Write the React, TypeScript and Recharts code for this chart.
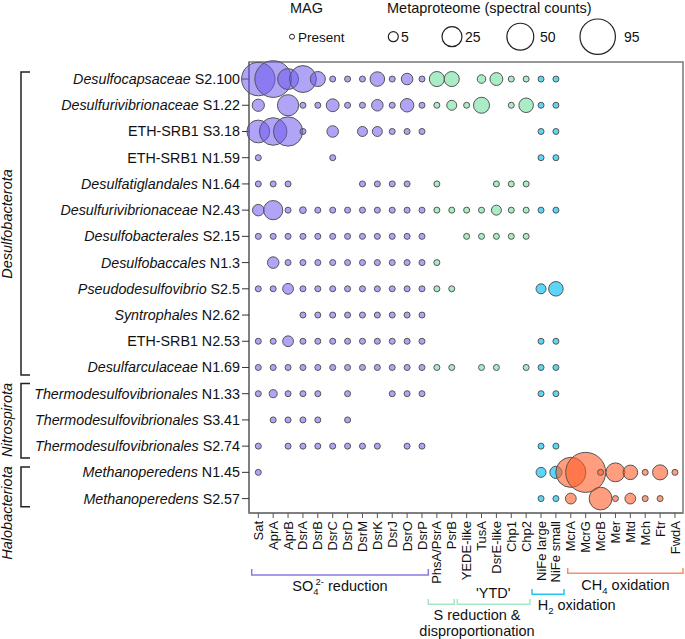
import React from 'react';
import { ScatterChart, Scatter, XAxis, YAxis, ReferenceArea, Customized } from 'recharts';

// MAG rows: [italic part, plain part]
const mags: [string, string][] = [
  ['Desulfocapsaceae', 'S2.100'],
  ['Desulfurivibrionaceae', 'S1.22'],
  ['', 'ETH-SRB1 S3.18'],
  ['', 'ETH-SRB1 N1.59'],
  ['Desulfatiglandales', 'N1.64'],
  ['Desulfurivibrionaceae', 'N2.43'],
  ['Desulfobacterales', 'S2.15'],
  ['Desulfobaccales', 'N1.3'],
  ['Pseudodesulfovibrio', 'S2.5'],
  ['Syntrophales', 'N2.62'],
  ['', 'ETH-SRB1 N2.53'],
  ['Desulfarculaceae', 'N1.69'],
  ['Thermodesulfovibrionales', 'N1.33'],
  ['Thermodesulfovibrionales', 'S3.41'],
  ['Thermodesulfovibrionales', 'S2.74'],
  ['Methanoperedens', 'N1.45'],
  ['Methanoperedens', 'S2.57'],
];

const sulfateGenes = ['Sat', 'AprA', 'AprB', 'DsrA', 'DsrB', 'DsrC', 'DsrD', 'DsrM', 'DsrK', 'DsrJ', 'DsrO', 'DsrP'];
const sulfurGenes = ['PhsA/PsrA', 'PsrB', 'YEDE-like', 'TusA', 'DsrE-like', 'Chp1', 'Chp2'];
const hydrogenGenes = ['NiFe large', 'NiFe small'];
const methaneGenes = ['McrA', 'McrG', 'McrB', 'Mer', 'Mtd', 'Mch', 'Ftr', 'FwdA'];
const genes = [...sulfateGenes, ...sulfurGenes, ...hydrogenGenes, ...methaneGenes];

// spectral counts per MAG; 0 = present in MAG only, null = absent
const _ = null;
const sulfateCounts: (number | null)[][] = [
  [83, 103, 28, 50, 13, 0, 0, 0, 12, 0, 7, 0],
  [8, _, 29, 0, 0, 9, 0, 0, 7, 0, 10, 0],
  [34, 53, 61, 0, _, 7, _, 5, 5, 0, 0, 0],
  [0, _, _, _, _, 0, _, _, _, _, _, _],
  [0, 0, 0, _, _, _, _, 0, 0, 0, 0, _],
  [7, 23, 0, 2, 0, 0, 0, 0, 0, 0, 0, 0],
  [0, 0, 0, 0, 0, 0, 0, 0, 0, 0, 0, 0],
  [_, 7, 0, 0, 0, 0, 0, 0, 0, 0, 0, 0],
  [0, 0, 6, 0, 0, 0, 0, 0, 0, 0, 0, 0],
  [_, _, _, 0, 0, 0, 0, 0, 0, 0, 0, 0],
  [0, 0, 6, 0, 0, 0, 0, 0, 0, 0, 0, 0],
  [0, 0, 0, 0, 0, 0, 0, 0, 0, 0, 0, 0],
  [0, 3, 0, 0, 0, _, 0, _, _, 0, 0, 0],
  [_, 0, 0, 0, 0, _, 0, _, _, _, _, _],
  [0, _, 0, 0, 0, 0, 0, 0, 0, _, 0, 0],
  [0, _, _, _, _, _, _, _, _, _, _, _],
  [_, _, _, _, _, _, _, _, _, _, _, _],
];
const sulfurCounts: (number | null)[][] = [
  [13, 13, _, 3.5, 9, 0, 0],
  [0, 5, 0, 15, _, 0, 12],
  [_, _, _, _, _, _, _],
  [_, _, _, _, _, _, _],
  [0, _, _, _, 0, 0, 0],
  [0, 0, 0, 0, 5, 0, 0],
  [_, _, 0, 0, 0, 0, 0],
  [0, _, _, _, _, _, _],
  [0, 0, _, _, _, _, _],
  [_, _, _, _, _, _, _],
  [_, _, _, _, _, _, _],
  [0, 0, _, 0, 0, _, 0],
  [_, _, _, _, _, _, _],
  [_, _, _, _, _, _, _],
  [_, _, _, _, _, _, _],
  [_, _, _, _, _, _, _],
  [_, _, _, _, _, _, _],
];
const hydrogenCounts: (number | null)[][] = [
  [0, 0], [0, 0], [0, 0], [0, 0], [_, _], [0, 0], [_, _], [_, _], [5, 12],
  [_, _], [0, 0], [0, 0], [0, 0], [_, _], [0, 0], [5, 8], [0, 0],
];
const methaneCounts: (number | null)[][] = [
  ...Array.from({ length: 15 }, () => [_, _, _, _, _, _, _, _]),
  [65, 126, 0, 22, 12, 0, 13, 0],
  [6, _, 34, 0, 6, 0, 0, _],
];

const legendCounts = [5, 25, 50, 95];

const FONT = '"Liberation Sans", Arial, sans-serif';

function toPoints(counts: (number | null)[][], offset: number) {
  const pts: { x: number; y: number; count: number }[] = [];
  counts.forEach((row, r) =>
    row.forEach((v, c) => {
      if (v !== null) pts.push({ x: offset + c, y: r, count: v });
    }),
  );
  return pts;
}

const sulfatePoints = toPoints(sulfateCounts, 0);
const sulfurPoints = toPoints(sulfurCounts, sulfateGenes.length);
const hydrogenPoints = toPoints(hydrogenCounts, sulfateGenes.length + sulfurGenes.length);
const methanePoints = toPoints(methaneCounts, sulfateGenes.length + sulfurGenes.length + hydrogenGenes.length);

const radius = (count: number) => (count === 0 ? 3 : 2.5 * Math.pow(count, 0.43));

const bubble = (fill: string, opacity: number) => (props: any) => {
  const cx = props.cx ?? props.x + props.width / 2;
  const cy = props.cy ?? props.y + props.height / 2;
  return (
    <circle
      cx={cx}
      cy={cy}
      r={radius(props.payload.count)}
      fill={fill}
      fillOpacity={opacity}
      stroke="#555"
      strokeWidth={1}
    />
  );
};

function MagTick({ x, y, payload }: any) {
  const [it, plain] = mags[payload.value] ?? ['', ''];
  return (
    <text x={x} y={y} dy="0.35em" textAnchor="end" fontSize={14.3} fill="#111" fontFamily={FONT}>
      {it && <tspan fontStyle="italic">{it}</tspan>}
      <tspan>{it ? ' ' + plain : plain}</tspan>
    </text>
  );
}

function GeneTick({ x, y, payload }: any) {
  return (
    <text
      x={x}
      y={y}
      dy="0.35em"
      textAnchor="end"
      fontSize={13}
      fill="#111"
      fontFamily={FONT}
      transform={`rotate(-90, ${x}, ${y})`}
    >
      {genes[payload.value]}
    </text>
  );
}

function Annotations() {
  const t = { fontFamily: FONT, fill: '#111' };
  return (
    <g>
      {/* size legend */}
      <text x={290} y={13} fontSize={14.5} {...t}>MAG</text>
      <text x={387} y={13} fontSize={14.5} {...t}>Metaproteome (spectral counts)</text>
      <circle cx={292} cy={36.7} r={2.5} fill="#fff" stroke="#222" strokeWidth={1} />
      <text x={298} y={41.5} fontSize={13.5} {...t}>Present</text>
      {legendCounts.map((c, i) => {
        const cx = [393.3, 452, 520.3, 597.7][i];
        const lx = [401, 465, 540, 624][i];
        return (
          <g key={c}>
            <circle cx={cx} cy={36.7} r={radius(c)} fill="#fff" stroke="#222" strokeWidth={1.2} />
            <text x={lx} y={41.5} fontSize={14} {...t}>{c}</text>
          </g>
        );
      })}

      {/* phylum brackets */}
      <g stroke="#222" strokeWidth={1.5} fill="none">
        <path d="M30,72 H21 V375 H30" />
        <path d="M30,383.5 H21 V458 H30" />
        <path d="M30,467 H21 V506.7 H30" />
      </g>
      <g fontSize={14.5} fontStyle="italic" textAnchor="middle" {...t}>
        <text x={12} y={224} transform="rotate(-90, 12, 224)">Desulfobacterota</text>
        <text x={12} y={420} transform="rotate(-90, 12, 420)">Nitrospirota</text>
        <text x={12} y={513} transform="rotate(-90, 12, 513)">Halobacteriota</text>
      </g>

      {/* gene group brackets */}
      <path d="M251.7,569 V575 H428.3 V569" stroke="#8a7ae6" strokeWidth={1.5} fill="none" />
      <text x={340} y={591} fontSize={14.5} textAnchor="middle" {...t}>
        SO<tspan fontSize={9.5} dy={4}>4</tspan>
        <tspan fontSize={9.5} dx={-3} dy={-10}>2-</tspan>
        <tspan dy={6}> reduction</tspan>
      </text>

      <path d="M428.3,599 V604.3 H454.3 V599" stroke="#a6e6c6" strokeWidth={1.5} fill="none" />
      <path d="M457.3,599 V604.3 H530 V599" stroke="#a6e6c6" strokeWidth={1.5} fill="none" />
      <text x={493.3} y={598} fontSize={14.5} textAnchor="middle" {...t}>'YTD'</text>
      <text x={477} y={620} fontSize={14.5} textAnchor="middle" {...t}>S reduction &amp;</text>
      <text x={477} y={635.5} fontSize={14.5} textAnchor="middle" {...t}>disproportionation</text>

      <path d="M532,589 V594.3 H564 V589" stroke="#22c8f0" strokeWidth={1.5} fill="none" />
      <text x={537.7} y={610} fontSize={14.5} {...t}>
        H<tspan fontSize={9.5} dy={4}>2</tspan>
        <tspan dy={-4}> oxidation</tspan>
      </text>

      <path d="M567.7,568 V573.3 H683 V568" stroke="#ff8a65" strokeWidth={1.5} fill="none" />
      <text x={625.5} y={590} fontSize={14.5} textAnchor="middle" {...t}>
        CH<tspan fontSize={9.5} dy={4}>4</tspan>
        <tspan dy={-4}> oxidation</tspan>
      </text>
    </g>
  );
}

const X_DOMAIN: [number, number] = [-0.625, 28.54];
const Y_DOMAIN: [number, number] = [-0.65, 16.55];

export default function App() {
  return (
    <div style={{ position: 'absolute', left: 0, top: 0, background: '#fff' }}>
      <ScatterChart width={685} height={639} margin={{ top: 62, right: 2, bottom: 96, left: 0 }}>
        <XAxis
          type="number"
          dataKey="x"
          domain={X_DOMAIN}
          height={30}
          ticks={genes.map((_g, i) => i)}
          interval={0}
          tick={<GeneTick />}
          tickLine={{ stroke: '#555' }}
          tickSize={5}
          tickMargin={3}
          axisLine={{ stroke: '#777', strokeWidth: 1.5 }}
        />
        <YAxis
          type="number"
          dataKey="y"
          domain={Y_DOMAIN}
          reversed
          width={249}
          ticks={mags.map((_m, i) => i)}
          interval={0}
          tick={<MagTick />}
          tickLine={{ stroke: '#333' }}
          tickSize={7}
          tickMargin={2}
          axisLine={{ stroke: '#777', strokeWidth: 1.5 }}
        />
        <ReferenceArea
          x1={X_DOMAIN[0]}
          x2={X_DOMAIN[1]}
          y1={Y_DOMAIN[0]}
          y2={Y_DOMAIN[1]}
          fill="none"
          stroke="#777"
          strokeWidth={1.5}
          ifOverflow="visible"
        />
        <Scatter data={sulfatePoints} isAnimationActive={false} shape={bubble('#6e5aed', 0.55)} />
        <Scatter data={sulfurPoints} isAnimationActive={false} shape={bubble('#6fe0a0', 0.6)} />
        <Scatter data={hydrogenPoints} isAnimationActive={false} shape={bubble('#33ccf5', 0.8)} />
        <Scatter data={methanePoints} isAnimationActive={false} shape={bubble('#ff5d28', 0.6)} />
        <Customized component={Annotations} />
      </ScatterChart>
    </div>
  );
}
